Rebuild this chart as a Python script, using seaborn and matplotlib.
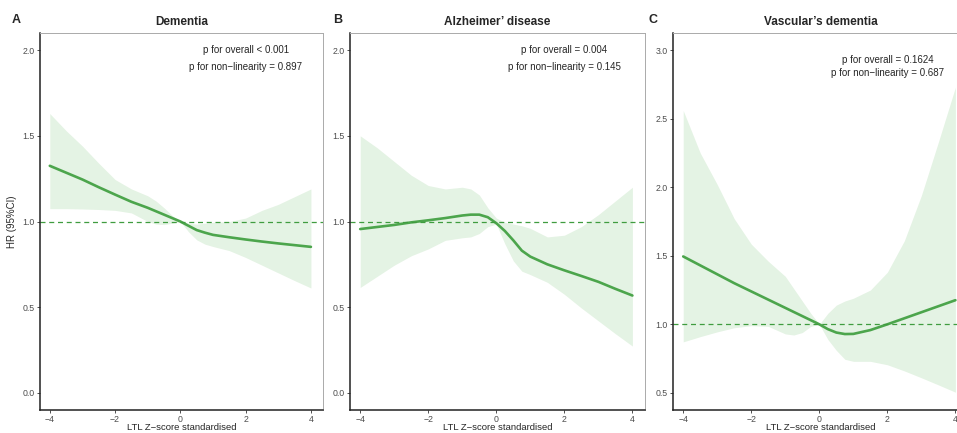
from matplotlib import pyplot as plt
import seaborn as sns
import pandas as pd

# LTL z-score grid shared by all three panels
z = [-4, -3.5, -3, -2.5, -2, -1.5, -1, -0.75, -0.5, -0.25, 0,
     0.25, 0.5, 0.75, 1, 1.5, 2, 2.5, 3, 3.5, 4]

# A: Dementia
dem_hr = [1.325, 1.285, 1.245, 1.20, 1.157, 1.115, 1.08, 1.06, 1.04, 1.02, 1.0,
          0.975, 0.95, 0.935, 0.922, 0.908, 0.895, 0.883, 0.872, 0.862, 0.852]
dem_lo = [1.075, 1.075, 1.073, 1.07, 1.065, 1.05, 1.0, 0.985, 0.982, 0.99, 1.0,
          0.94, 0.893, 0.868, 0.854, 0.83, 0.79, 0.745, 0.70, 0.655, 0.612]
dem_hi = [1.63, 1.53, 1.44, 1.34, 1.245, 1.19, 1.15, 1.12, 1.08, 1.035, 1.0,
          0.99, 0.985, 0.99, 0.995, 1.0, 1.02, 1.065, 1.10, 1.145, 1.19]

# B: Alzheimer' disease
alz_hr = [0.956, 0.968, 0.98, 0.995, 1.007, 1.02, 1.035, 1.04, 1.04, 1.025, 0.99,
          0.945, 0.89, 0.83, 0.795, 0.75, 0.715, 0.682, 0.648, 0.607, 0.568]
alz_lo = [0.615, 0.68, 0.745, 0.80, 0.84, 0.89, 0.905, 0.91, 0.93, 0.97, 0.985,
          0.87, 0.77, 0.71, 0.69, 0.645, 0.575, 0.495, 0.42, 0.345, 0.273]
alz_hi = [1.50, 1.43, 1.35, 1.27, 1.21, 1.19, 1.20, 1.19, 1.155, 1.08, 1.02,
          0.995, 0.985, 0.975, 0.96, 0.91, 0.92, 0.97, 1.04, 1.12, 1.20]

# C: Vascular's dementia
vas_hr = [1.495, 1.43, 1.365, 1.30, 1.24, 1.18, 1.12, 1.09, 1.06, 1.03, 1.0,
          0.965, 0.94, 0.929, 0.93, 0.958, 1.0, 1.044, 1.088, 1.132, 1.176]
vas_lo = [0.872, 0.91, 0.945, 0.975, 0.99, 0.985, 0.93, 0.922, 0.94, 0.985, 1.0,
          0.89, 0.81, 0.745, 0.73, 0.73, 0.705, 0.66, 0.61, 0.558, 0.505]
vas_hi = [2.56, 2.25, 2.02, 1.77, 1.585, 1.46, 1.35, 1.26, 1.17, 1.08, 1.0,
          1.08, 1.14, 1.17, 1.19, 1.25, 1.38, 1.61, 1.94, 2.33, 2.73]

titles = ["Dementia", "Alzheimer\u2019 disease", "Vascular\u2019s dementia"]
tags = ["A", "B", "C"]
p_overall = ["p for overall < 0.001", "p for overall = 0.004", "p for overall = 0.1624"]
p_nonlin = ["p for non\u2212linearity = 0.897", "p for non\u2212linearity = 0.145",
            "p for non\u2212linearity = 0.687"]
y_ticks = [[0.0, 0.5, 1.0, 1.5, 2.0], [0.0, 0.5, 1.0, 1.5, 2.0],
           [0.5, 1.0, 1.5, 2.0, 2.5, 3.0]]
y_lims = [(-0.1, 2.1), (-0.1, 2.1), (0.375, 3.125)]
text_y = [(2.0, 1.9), (2.0, 1.9), (2.93, 2.83)]

GREEN = "#4CA54C"
BAND = "#4DAF4A"


def draw_panel(ax, hr, lo, hi, i):
    """Draw one spline panel with its CI band"""
    df = pd.DataFrame({"z": z, "hr": hr, "lo": lo, "hi": hi})
    ax.fill_between(df["z"], df["lo"], df["hi"], color=BAND, alpha=0.15,
                    linewidth=0)
    sns.lineplot(data=df, x="z", y="hr", ax=ax, color=GREEN, linewidth=1.9)
    ax.axhline(1.0, color="#3F9C3F", linestyle=(0, (4, 3)), linewidth=0.9)

    ax.set_xlim(-4.3, 4.37)
    ax.set_ylim(*y_lims[i])
    ax.set_xticks([-4, -2, 0, 2, 4])
    ax.set_xticklabels(["\u22124", "\u22122", "0", "2", "4"])
    ax.set_yticks(y_ticks[i])
    ax.set_yticklabels([f"{v:.1f}" for v in y_ticks[i]])
    ax.tick_params(length=2.2, width=0.6, color="#333333", labelsize=6.3,
                   labelcolor="#4D4D4D", pad=1.5)

    for side in ["left", "bottom"]:
        ax.spines[side].set_color("#222222")
        ax.spines[side].set_linewidth(1.1)
    for side in ["top", "right"]:
        ax.spines[side].set_visible(True)
        ax.spines[side].set_color("#AAAAAA")
        ax.spines[side].set_linewidth(0.7)

    ax.set_title(titles[i], fontsize=8.5, fontweight="bold", pad=6)
    ax.set_xlabel("LTL Z\u2212score standardised", fontsize=6.8, labelpad=0)
    ax.xaxis.set_label_coords(0.5, -0.035)
    ax.set_ylabel("HR (95%CI)" if i == 0 else "", fontsize=7, labelpad=4)

    ax.text(2, text_y[i][0], p_overall[i], ha="center", va="center", fontsize=7)
    ax.text(2, text_y[i][1], p_nonlin[i], ha="center", va="center", fontsize=7)


if __name__ == "__main__":
    sns.set_theme(style="ticks")
    plt.rcParams["font.family"] = ["Liberation Sans", "DejaVu Sans"]

    fig = plt.figure(figsize=(9.57, 4.33), dpi=100)
    W, H = 957, 433
    # axes boxes in pixels: left, right
    boxes = [(40, 323), (350, 645), (673, 968)]
    top, bottom = 33, 410
    series = [(dem_hr, dem_lo, dem_hi), (alz_hr, alz_lo, alz_hi),
              (vas_hr, vas_lo, vas_hi)]
    tag_x = [16, 338, 653]

    for i, (l, r) in enumerate(boxes):
        ax = fig.add_axes([l / W, 1 - bottom / H, (r - l) / W, (bottom - top) / H])
        draw_panel(ax, *series[i], i)
        fig.text(tag_x[i] / W, 1 - 20 / H, tags[i], fontsize=9, fontweight="bold",
                 ha="center", va="center")

    fig.savefig("out.png", dpi=100)
